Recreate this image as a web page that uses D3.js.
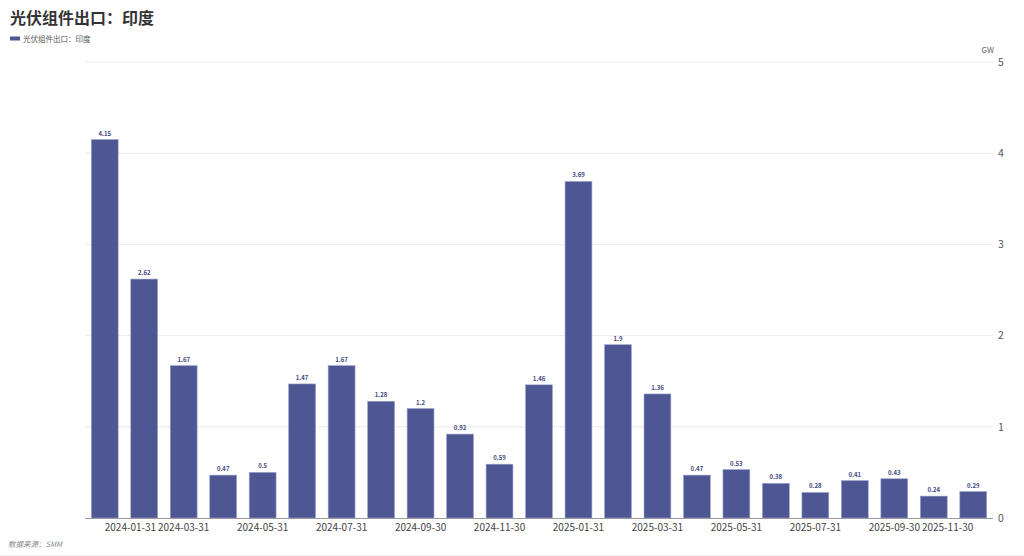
<!DOCTYPE html>
<html><head><meta charset="utf-8">
<script src="https://cdn.jsdelivr.net/npm/d3@7/dist/d3.min.js"></script>
<style>body{margin:0;background:#fff}svg{display:block;font-family:"Noto Sans CJK SC","Noto Sans",sans-serif}</style>
</head><body><svg id="c" width="1024" height="556"></svg>
<script>
const title = "光伏组件出口：印度";
const seriesName = "光伏组件出口：印度";
const source = "数据来源：SMM";
const unit = "GW";
const categories = ["2024-01-31","2024-02-29","2024-03-31","2024-04-30","2024-05-31","2024-06-30","2024-07-31","2024-08-31","2024-09-30","2024-10-31","2024-11-30","2024-12-31","2025-01-31","2025-02-28","2025-03-31","2025-04-30","2025-05-31","2025-06-30","2025-07-31","2025-08-31","2025-09-30","2025-10-31","2025-11-30"];
const values = [4.15,2.62,1.67,0.47,0.5,1.47,1.67,1.28,1.2,0.92,0.59,1.46,3.69,1.9,1.36,0.47,0.53,0.38,0.28,0.41,0.43,0.24,0.29];
const yTicks = [0,1,2,3,4,5];

const svg = d3.select("#c");
const L = 85, R = 993, T = 62, B = 518;
const barColor = "#4e5794";
const x = d3.scaleBand().domain(categories).range([L, R]).paddingInner(0.32).paddingOuter(0.16);
const y = d3.scaleLinear().domain([0, 5]).range([B, T]);

svg.append("text").attr("x", 10).attr("y", 24).attr("font-size", 16).attr("font-weight", "bold").attr("fill", "#333").text(title);
svg.append("rect").attr("x", 10).attr("y", 36.5).attr("width", 10).attr("height", 4).attr("fill", barColor);
svg.append("text").attr("x", 23).attr("y", 41.5).attr("font-size", 7.5).attr("fill", "#555").text(seriesName);

// grid
svg.append("g").selectAll("line").data(yTicks.filter(d => d > 0)).join("line")
  .attr("x1", L).attr("x2", R).attr("y1", d => y(d)).attr("y2", d => y(d))
  .attr("stroke", "#ececec").attr("stroke-width", 1);

// right y axis
const ya = svg.append("g").attr("transform", `translate(${R},0)`)
  .call(d3.axisRight(y).tickValues(yTicks).tickSize(0).tickPadding(5).tickFormat(d3.format("d")));
ya.select(".domain").remove();
ya.selectAll("text").attr("font-size", 10.5).attr("fill", "#555").attr("font-family", "\"Noto Sans CJK SC\",sans-serif");
svg.append("text").attr("x", 994).attr("y", 53).attr("text-anchor", "end").attr("font-size", 8).attr("fill", "#666").text(unit);

// bars
svg.append("g").selectAll("rect").data(values).join("rect")
  .attr("x", (d, i) => x(categories[i])).attr("width", x.bandwidth())
  .attr("y", d => y(d)).attr("height", d => B - y(d))
  .attr("fill", barColor).attr("stroke", "#9aa0c8").attr("stroke-width", 0.6);

// value labels
svg.append("g").selectAll("text").data(values).join("text")
  .attr("x", (d, i) => x(categories[i]) + x.bandwidth() / 2).attr("y", d => y(d) - 4)
  .attr("text-anchor", "middle").attr("font-size", 6).attr("font-weight", "bold").attr("fill", "#3f4780")
  .text(d => d);

// x axis
const xa = svg.append("g").attr("transform", `translate(0,${B})`)
  .call(d3.axisBottom(x).tickValues(categories.filter((d, i) => i % 2 === 0)).tickSize(0).tickPadding(6));
xa.select(".domain").attr("stroke", "#9a9a9a").attr("d", `M${L},0.5H${R}`);
const n = categories.filter((d, i) => i % 2 === 0).length;
xa.selectAll("text").attr("font-size", 10).attr("fill", "#444").attr("font-family", "\"Noto Sans CJK SC\",sans-serif")
  .attr("text-anchor", (d, i) => i === 0 ? "start" : (i === n - 1 ? "end" : "middle"));

svg.append("text").attr("x", 8).attr("y", 547).attr("font-size", 7.5).attr("font-style", "italic").attr("fill", "#888").text(source);
svg.append("line").attr("x1", 0).attr("x2", 1024).attr("y1", 555.5).attr("y2", 555.5).attr("stroke", "#f0f0f0");
</script></body></html>
